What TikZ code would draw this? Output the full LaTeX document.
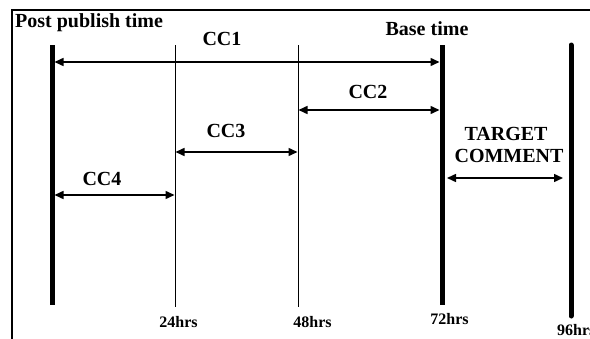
\documentclass[tikz,border=0pt]{standalone}
\usepackage{fontspec}
\setmainfont{Liberation Serif}
\usetikzlibrary{arrows.meta}
\begin{document}
\begin{tikzpicture}[x=1pt,y=-1pt,
  lbl/.style={font=\bfseries\fontsize{20}{22}\selectfont, anchor=base, inner sep=0pt},
  hrs/.style={font=\bfseries\fontsize{16}{16}\selectfont, anchor=base, inner sep=0pt},
  frame/.style={line width=2pt},
  boldmark/.style={line width=5pt},
  thinmark/.style={line width=1pt},
  span/.style={line width=1.5pt, {Triangle[length=9pt,width=8pt]}-{Triangle[length=9pt,width=8pt]}}
]
\useasboundingbox (0,0) rectangle (590,338);

% outer frame (top and left edges)
\draw[frame] (12,345) -- (12,10) -- (600,10);

% time marks
\coordinate (t0a) at (52,45);   \coordinate (t0b) at (52,305);
\coordinate (t24a) at (175,45); \coordinate (t24b) at (175,307);
\coordinate (t48a) at (298,45); \coordinate (t48b) at (298,307);
\coordinate (t72a) at (442,45); \coordinate (t72b) at (442,305);
\coordinate (t96a) at (571,45); \coordinate (t96b) at (571,316);

\draw[boldmark] (t0a) -- (t0b);
\draw[thinmark] (t24a) -- (t24b);
\draw[thinmark] (t48a) -- (t48b);
\draw[boldmark] (t72a) -- (t72b);
\draw[boldmark, line cap=round] (t96a) -- (t96b);

% spans between the marks
\coordinate (c1l) at (54.5,62);  \coordinate (c1r) at (439.5,62);
\coordinate (c2l) at (298.5,110); \coordinate (c2r) at (439.5,110);
\coordinate (c3l) at (175.5,152); \coordinate (c3r) at (297.5,152);
\coordinate (c4l) at (54.5,195);  \coordinate (c4r) at (174.5,195);
\coordinate (tgl) at (447,178);   \coordinate (tgr) at (563,178);

\draw[span] (c1l) -- (c1r);
\draw[span] (c2l) -- (c2r);
\draw[span] (c3l) -- (c3r);
\draw[span] (c4l) -- (c4r);
\draw[span] (tgl) -- (tgr);

% labels
\node[lbl, anchor=base west] (post) at (15,27) {Post publish time};
\node[lbl] (base) at (427,35) {Base time};
\node[lbl] (cc1) at (222,45) {CC1};
\node[lbl] (cc2) at (368,98) {CC2};
\node[lbl] (cc3) at (226,137) {CC3};
\node[lbl] (cc4) at (102,185) {CC4};
\node[lbl] (tg1) at (506,140) {TARGET};
\node[lbl] (tg2) at (509,162) {COMMENT};

\node[hrs] (h24) at (178.5,327) {24hrs};
\node[hrs] (h48) at (312.5,327) {48hrs};
\node[hrs] (h72) at (449.5,324) {72hrs};
\node[hrs, anchor=base west] (h96) at (557,335) {96hrs};
\end{tikzpicture}
\end{document}
